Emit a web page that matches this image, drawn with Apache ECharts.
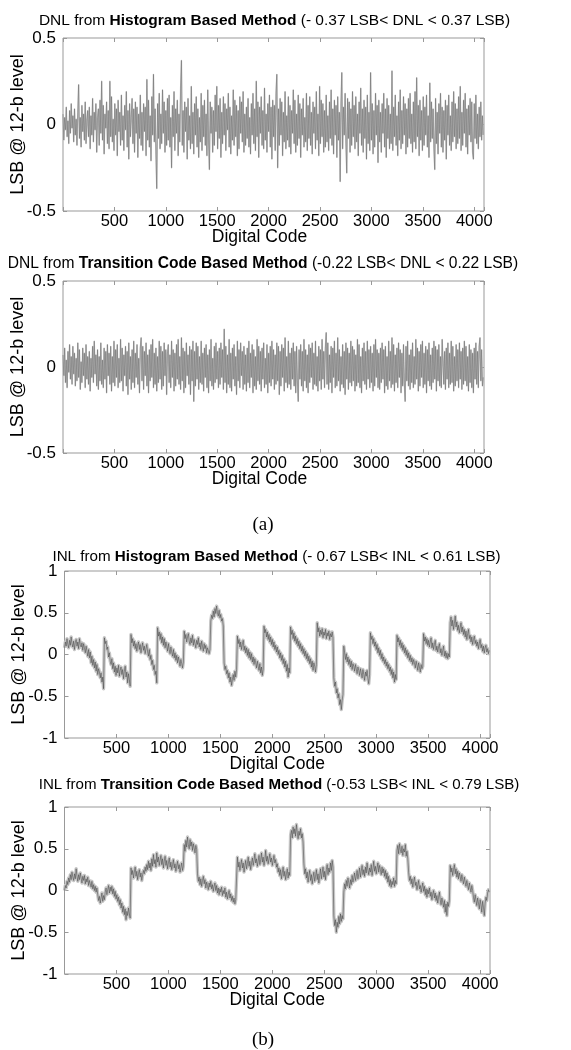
<!DOCTYPE html>
<html>
<head>
<meta charset="utf-8">
<script src="https://cdn.jsdelivr.net/npm/echarts@6/dist/echarts.min.js"></script>
<style>
html,body{margin:0;padding:0;background:#fff;}
#c{width:571px;height:1050px;}
</style>
</head>
<body>
<div id="c"></div>
<script>
// One stored sample every 8 digital codes (0..4088)
const codeStep = 8;
const xTicks = [500, 1000, 1500, 2000, 2500, 3000, 3500, 4000];
const dnlTicks = [-0.5, 0, 0.5];
const inlTicks = [-1, -0.5, 0, 0.5, 1];

const titles = [
  ['DNL from ', 'Histogram Based Method', ' (- 0.37 LSB< DNL < 0.37 LSB)'],
  ['DNL from ', 'Transition Code Based Method', ' (-0.22 LSB< DNL < 0.22 LSB)'],
  ['INL from ', 'Histogram Based Method', ' (- 0.67 LSB< INL < 0.61 LSB)'],
  ['INL from ', 'Transition Code Based Method', ' (-0.53 LSB< INL < 0.79 LSB)']
];

// DNL, histogram based method (LSB)
const dnlHist = [
  0.06,-0.09,0.04,-0.03,0.10,-0.07,0.02,-0.11,0.08,-0.05,0.12,-0.02,0.05,-0.10,0.09,-0.06,
  0.03,-0.12,0.07,0.23,-0.08,0.04,-0.13,0.11,-0.04,0.06,-0.09,0.13,-0.11,0.02,0.08,-0.07,
  0.10,-0.14,0.05,-0.06,0.15,-0.10,0.07,-0.03,0.12,-0.16,0.04,0.09,-0.12,0.14,-0.05,0.25,
  -0.09,0.11,-0.17,0.06,-0.02,0.13,-0.11,0.08,-0.14,0.25,-0.07,0.16,-0.10,0.03,-0.15,0.12,
  -0.06,0.09,-0.18,0.14,-0.04,0.07,-0.12,0.17,-0.09,0.05,-0.15,0.11,-0.03,0.19,-0.13,0.08,
  -0.20,0.12,-0.07,0.04,0.15,-0.11,0.09,-0.16,0.13,-0.05,0.10,-0.19,0.06,-0.08,0.17,-0.12,
  0.07,-0.15,0.12,-0.04,0.10,-0.18,0.26,-0.09,0.14,-0.13,0.05,-0.21,0.16,-0.06,0.29,-0.10,
  0.09,-0.17,-0.37,0.12,-0.08,0.18,-0.14,0.06,-0.11,0.20,-0.05,0.13,-0.16,0.08,-0.12,0.15,
  -0.09,0.17,-0.13,0.04,-0.25,0.11,-0.07,0.19,-0.15,0.09,-0.05,0.14,-0.18,0.06,-0.10,0.21,
  0.37,-0.12,0.08,-0.16,0.13,-0.04,0.10,-0.20,0.15,-0.09,0.05,-0.14,0.22,-0.11,0.07,-0.17,
  0.12,-0.06,0.16,-0.13,0.09,-0.19,0.04,-0.10,0.18,-0.15,0.11,-0.07,0.14,-0.12,0.06,-0.18,
  0.20,-0.09,-0.26,0.13,-0.05,0.10,-0.16,0.08,-0.12,0.17,-0.04,0.22,-0.14,0.11,-0.08,0.15,
  -0.19,0.07,-0.11,0.16,-0.06,0.12,-0.15,0.09,-0.03,0.18,-0.13,0.10,-0.17,0.05,-0.09,0.20,
  -0.12,0.14,-0.07,0.11,-0.18,0.08,-0.14,0.16,-0.05,0.13,-0.10,0.19,-0.16,0.06,-0.12,0.10,
  -0.08,0.15,-0.13,0.04,-0.17,0.12,-0.06,0.18,-0.11,0.09,-0.15,0.25,-0.07,0.13,-0.19,0.10,
  -0.05,0.16,-0.12,0.08,-0.14,0.21,-0.09,0.06,-0.16,0.12,-0.04,0.17,-0.13,0.10,-0.20,0.14,
  -0.07,0.11,-0.15,0.18,0.29,-0.25,0.09,-0.12,0.15,-0.06,0.13,-0.18,0.07,-0.10,0.19,-0.14,
  0.05,-0.09,0.16,-0.13,0.11,-0.17,0.08,-0.05,0.20,-0.11,0.14,-0.16,0.06,-0.12,0.17,-0.08,
  0.12,-0.19,0.09,-0.06,0.15,-0.13,0.04,-0.10,0.18,-0.15,0.11,-0.08,0.16,-0.12,0.07,-0.17,
  0.13,-0.05,0.10,-0.14,0.19,-0.09,0.06,-0.18,0.22,-0.11,0.14,-0.07,0.12,-0.16,0.08,-0.13,
  0.17,-0.10,0.05,-0.15,0.13,-0.08,0.20,-0.12,0.09,-0.17,0.14,-0.06,0.11,-0.19,0.16,-0.09,
  0.07,-0.33,0.12,0.30,-0.14,0.10,-0.06,0.18,-0.11,-0.28,0.15,-0.08,0.13,-0.16,0.09,-0.12,
  0.19,-0.07,0.11,-0.14,0.16,-0.10,0.06,-0.18,0.13,-0.05,0.21,-0.12,0.09,-0.16,0.14,-0.08,
  0.10,-0.20,0.17,-0.11,0.07,-0.15,0.30,-0.09,0.12,-0.17,0.08,-0.13,0.18,-0.06,0.11,-0.22,
  0.14,-0.10,0.07,-0.16,0.12,-0.05,0.18,-0.13,0.09,-0.19,0.15,-0.08,0.11,-0.14,0.06,-0.11,
  0.31,-0.15,0.10,-0.07,0.17,-0.12,0.05,-0.18,0.13,-0.09,0.20,-0.14,0.08,-0.11,0.16,-0.06,
  0.12,-0.17,0.09,-0.13,0.15,-0.08,0.18,-0.11,0.06,-0.16,0.13,-0.10,0.19,-0.14,0.27,-0.07,
  0.11,-0.18,0.14,-0.09,0.08,-0.15,0.16,-0.12,0.10,-0.06,0.17,-0.13,0.05,-0.19,0.24,-0.10,
  0.13,-0.08,0.09,-0.14,-0.26,0.15,-0.11,0.07,-0.17,0.12,-0.05,0.18,-0.13,0.10,-0.16,0.08,
  -0.09,0.14,-0.20,0.11,-0.06,0.17,-0.12,0.05,-0.15,0.13,-0.10,0.19,-0.07,0.12,-0.14,0.09,
  -0.11,0.16,-0.08,0.22,-0.15,0.07,-0.12,0.14,-0.05,0.18,-0.13,0.09,-0.17,0.11,-0.06,0.15,
  -0.10,0.13,-0.16,-0.20,0.12,-0.08,0.17,-0.11,0.06,-0.14,0.10,-0.07,0.13,-0.09,0.05,-0.06
];

// DNL, transition code based method (LSB)
const dnlTrans = [
  0.07,-0.05,0.11,-0.09,0.04,-0.12,0.09,-0.03,0.13,-0.07,0.06,-0.10,0.12,-0.04,0.08,-0.11,
  0.05,-0.08,0.14,-0.06,0.10,-0.13,0.03,-0.09,0.11,-0.05,0.08,-0.12,0.13,-0.07,0.06,-0.10,
  0.09,-0.14,0.05,-0.06,0.12,-0.09,0.15,-0.04,0.07,-0.11,0.10,-0.13,0.06,-0.08,0.14,-0.10,
  0.04,-0.12,0.11,-0.07,0.09,-0.15,0.13,-0.05,0.08,-0.10,0.12,-0.14,0.06,-0.09,0.15,-0.11,
  0.10,-0.06,0.13,-0.12,0.05,-0.09,0.16,-0.08,0.11,-0.14,0.07,-0.05,0.12,-0.11,0.09,-0.16,
  0.14,-0.07,0.06,-0.13,0.10,-0.09,0.15,-0.12,0.08,-0.06,0.13,-0.10,0.05,-0.15,0.11,0.17,
  -0.08,0.12,-0.13,0.09,-0.05,0.14,-0.11,0.07,-0.15,0.10,-0.08,0.13,-0.06,0.16,-0.12,0.08,
  -0.10,0.11,-0.14,0.06,-0.09,0.15,-0.07,0.12,-0.13,0.09,-0.11,0.14,-0.05,0.10,-0.16,0.08,
  0.13,-0.09,0.07,-0.12,0.15,-0.06,0.10,-0.14,0.08,-0.11,0.13,-0.07,0.16,-0.10,0.06,-0.13,
  0.17,-0.08,0.11,-0.15,0.09,-0.12,0.14,-0.05,0.07,-0.10,0.12,-0.16,0.10,-0.08,0.15,-0.20,
  0.09,-0.11,0.14,-0.07,0.12,-0.13,0.06,-0.09,0.15,-0.10,0.08,-0.14,0.11,-0.06,0.13,-0.12,
  0.07,-0.15,0.10,-0.08,0.16,-0.11,0.05,-0.13,0.12,-0.09,0.14,-0.07,0.09,-0.12,0.11,-0.10,
  0.14,-0.06,0.10,-0.13,0.22,-0.09,0.12,-0.15,0.07,-0.10,0.16,-0.12,0.08,-0.14,0.11,-0.07,
  0.13,-0.11,0.06,-0.16,0.15,-0.08,0.10,-0.12,0.14,-0.05,0.09,-0.13,0.12,-0.10,0.07,-0.14,
  0.11,-0.09,0.15,-0.12,0.08,-0.06,0.13,-0.15,0.10,-0.11,0.06,-0.13,0.16,-0.08,0.12,-0.10,
  0.09,-0.14,0.11,-0.07,0.14,-0.12,0.05,-0.10,0.13,-0.15,0.08,-0.09,0.12,-0.11,0.15,-0.07,
  0.10,-0.13,0.07,-0.10,0.14,-0.08,0.12,-0.16,0.09,-0.11,0.13,-0.06,0.11,-0.14,0.17,-0.09,
  0.06,-0.12,0.15,-0.10,0.08,-0.13,0.11,-0.07,0.14,-0.11,0.09,-0.15,0.12,-0.08,-0.20,0.10,
  -0.07,0.13,-0.11,0.09,-0.14,0.16,-0.08,0.10,-0.12,0.07,-0.15,0.13,-0.09,0.11,-0.06,0.14,
  -0.13,0.08,-0.10,0.15,-0.11,0.06,-0.14,0.12,-0.08,0.10,-0.13,0.16,-0.07,0.09,-0.12,0.11,
  0.20,-0.10,0.14,-0.13,0.07,-0.09,0.12,-0.15,0.11,-0.06,0.15,-0.12,0.08,-0.11,0.17,-0.08,
  0.10,-0.14,0.06,-0.10,0.13,-0.12,0.09,-0.16,0.14,-0.07,0.11,-0.13,0.08,-0.09,0.15,-0.11,
  0.12,-0.08,0.10,-0.14,0.07,-0.11,0.16,-0.09,0.13,-0.12,0.06,-0.15,0.11,-0.08,0.14,-0.10,
  0.09,-0.13,0.15,-0.07,0.10,-0.12,0.12,-0.09,0.08,-0.14,0.13,-0.11,0.16,-0.06,0.10,-0.12,
  0.08,-0.13,0.11,-0.09,0.14,-0.07,0.10,-0.15,0.12,-0.11,0.06,-0.13,0.15,-0.08,0.09,-0.12,
  0.17,-0.10,0.13,-0.14,0.07,-0.09,0.11,-0.12,0.14,-0.06,0.10,-0.15,0.08,-0.11,0.13,-0.09,
  -0.20,0.12,-0.08,0.15,-0.11,0.07,-0.13,0.10,-0.09,0.14,-0.12,0.06,-0.10,0.16,-0.07,0.11,
  -0.14,0.09,-0.11,0.13,-0.06,0.15,-0.12,0.08,-0.10,0.12,-0.15,0.10,-0.08,0.14,-0.11,0.07,
  -0.13,0.11,-0.09,0.15,-0.07,0.12,-0.14,0.10,-0.08,0.13,-0.11,0.06,-0.12,0.16,0.17,-0.10,
  0.09,-0.13,0.11,-0.07,0.14,-0.12,0.08,-0.10,0.15,-0.09,0.12,-0.14,0.06,-0.11,0.13,-0.08,
  0.10,-0.12,0.14,-0.07,0.09,-0.13,0.11,-0.10,0.15,-0.08,0.12,-0.11,0.06,-0.14,0.13,-0.09,
  0.10,-0.12,0.08,-0.15,0.11,-0.07,0.14,-0.10,0.09,-0.12,0.12,0.17,-0.08,0.10,-0.11,-0.06
];

// INL, histogram based method (LSB)
const inlHist = [
  0.08,0.15,0.10,0.19,0.12,0.08,0.17,0.11,0.21,0.13,0.09,0.16,0.06,0.14,0.18,0.10,
  0.15,0.07,0.19,0.12,0.09,0.14,0.05,0.13,0.08,0.02,0.10,0.04,-0.02,0.06,-0.04,0.03,
  -0.10,-0.02,-0.13,-0.06,-0.16,-0.09,-0.20,-0.12,-0.24,-0.17,-0.21,-0.28,-0.22,-0.33,-0.27,-0.41,
  0.20,0.13,0.16,0.06,0.09,-0.03,0.02,-0.08,-0.12,-0.05,-0.17,-0.10,-0.21,-0.14,-0.25,-0.16,
  -0.22,-0.13,-0.26,-0.19,-0.15,-0.24,-0.18,-0.29,-0.20,-0.14,-0.27,-0.21,-0.34,-0.23,-0.30,-0.38,
  0.24,0.14,0.19,0.10,0.16,0.07,0.13,0.04,0.11,0.15,0.06,0.12,0.02,0.09,0.14,0.05,
  0.10,0.01,0.07,0.12,0.03,-0.02,0.06,-0.06,-0.01,-0.12,-0.07,-0.18,-0.13,-0.24,-0.20,-0.34,
  0.32,0.22,0.27,0.18,0.25,0.14,0.21,0.11,0.19,0.08,0.15,0.10,0.04,0.13,0.06,0.01,
  0.09,0.03,-0.02,0.06,-0.04,0.02,-0.07,-0.01,-0.10,-0.03,-0.08,-0.14,-0.06,-0.11,-0.16,-0.09,
  0.28,0.19,0.24,0.15,0.21,0.25,0.16,0.12,0.20,0.14,0.23,0.11,0.18,0.13,0.08,0.17,
  0.12,0.20,0.09,0.14,0.06,0.16,0.10,0.04,0.13,0.07,0.11,0.02,0.08,0.05,0.01,0.06,
  0.40,0.47,0.43,0.52,0.45,0.55,0.49,0.58,0.50,0.46,0.53,0.44,0.48,0.40,0.43,0.34,
  -0.10,-0.18,-0.14,-0.23,-0.19,-0.28,-0.22,-0.33,-0.27,-0.37,-0.30,-0.24,-0.31,-0.20,-0.27,-0.18,
  0.22,0.13,0.18,0.09,0.15,0.06,0.12,0.17,0.05,0.10,0.02,0.08,-0.01,0.06,-0.04,0.03,
  -0.06,0.01,-0.09,-0.03,-0.12,-0.05,-0.10,-0.16,-0.08,-0.14,-0.19,-0.11,-0.22,-0.15,-0.25,-0.18,
  0.34,0.26,0.30,0.21,0.27,0.18,0.24,0.15,0.21,0.12,0.18,0.09,0.15,0.06,0.11,0.03,
  0.09,0.00,0.05,-0.04,0.02,-0.07,-0.01,-0.11,-0.05,-0.15,-0.08,-0.20,-0.12,-0.27,-0.16,-0.22,
  0.33,0.24,0.29,0.19,0.26,0.16,0.22,0.13,0.19,0.10,0.16,0.07,0.13,0.04,0.10,0.01,
  0.07,-0.02,0.04,-0.05,0.01,-0.08,-0.02,-0.11,-0.05,-0.15,-0.08,-0.19,-0.10,-0.14,-0.21,-0.12,
  0.38,0.27,0.32,0.22,0.29,0.24,0.31,0.20,0.27,0.23,0.30,0.19,0.26,0.22,0.28,0.18,0.25,0.21,0.27,0.20,
  -0.28,-0.38,-0.33,-0.46,-0.41,-0.52,-0.47,-0.60,-0.54,-0.66,-0.55,-0.48,
  0.10,0.02,-0.06,0.01,-0.09,-0.03,-0.12,-0.06,-0.15,-0.08,-0.18,-0.11,-0.14,-0.20,-0.12,-0.17,
  -0.23,-0.15,-0.19,-0.25,-0.17,-0.22,-0.28,-0.18,-0.24,-0.31,-0.21,-0.26,-0.19,-0.29,-0.35,-0.24,
  0.26,0.18,0.22,0.13,0.19,0.10,0.15,0.06,0.12,0.02,0.08,-0.01,0.05,-0.05,0.01,-0.08,
  -0.03,-0.11,-0.06,-0.14,-0.09,-0.17,-0.12,-0.20,-0.15,-0.24,-0.18,-0.28,-0.21,-0.33,-0.24,-0.30,
  0.23,0.15,0.20,0.11,0.17,0.08,0.14,0.05,0.11,0.02,0.08,-0.01,0.05,-0.04,0.02,-0.07,
  -0.01,-0.09,-0.04,-0.12,-0.06,-0.10,-0.16,-0.08,-0.13,-0.19,-0.10,-0.15,-0.21,-0.12,-0.17,-0.14,
  0.25,0.16,0.21,0.13,0.19,0.11,0.17,0.09,0.15,0.20,0.08,0.14,0.06,0.12,0.17,0.05,
  0.10,0.03,0.09,0.13,0.02,0.07,-0.01,0.05,0.10,-0.02,0.04,-0.04,0.02,-0.05,0.01,-0.03,
  0.38,0.45,0.34,0.41,0.30,0.37,0.46,0.33,0.39,0.29,0.35,0.26,0.32,0.38,0.27,0.33,
  0.24,0.30,0.21,0.28,0.18,0.25,0.30,0.19,0.23,0.15,0.21,0.12,0.18,0.22,0.13,0.17,
  0.10,0.15,0.07,0.13,0.18,0.08,0.12,0.04,0.10,0.02,0.08,0.11,0.03,0.07,0.01,0.05
];

// INL, transition code based method (LSB)
const inlTrans = [
  0.00,0.06,0.03,0.11,0.07,0.15,0.10,0.19,0.13,0.22,0.16,0.12,0.20,0.14,0.26,0.17,
  0.11,0.19,0.13,0.21,0.15,0.09,0.17,0.12,0.18,0.08,0.14,0.10,0.16,0.06,0.12,0.08,
  0.04,0.11,0.02,0.07,0.00,0.05,-0.02,0.03,
  -0.05,-0.12,-0.07,-0.15,-0.09,-0.03,-0.13,-0.06,-0.11,-0.02,0.03,-0.05,0.01,0.06,-0.03,0.04,
  -0.01,0.05,-0.04,0.02,-0.07,-0.01,-0.10,-0.05,-0.13,-0.08,
  -0.17,-0.11,-0.21,-0.15,-0.26,-0.19,-0.29,-0.22,-0.35,-0.25,-0.30,-0.21,-0.28,-0.33,
  0.27,0.19,0.24,0.15,0.22,0.28,0.17,0.23,0.13,0.20,0.25,0.16,0.21,0.12,0.19,0.24,
  0.20,0.28,0.23,0.31,0.25,0.35,0.27,0.33,0.24,0.38,0.29,0.43,0.32,0.37,0.28,0.45,
  0.34,0.40,0.30,0.36,0.42,0.31,0.38,0.27,0.35,0.41,0.30,0.36,0.26,0.33,0.39,0.28,
  0.34,0.25,0.31,0.37,0.27,0.32,0.23,0.30,0.35,0.26,0.31,0.22,0.28,0.33,0.24,0.29,
  0.55,0.47,0.60,0.52,0.64,0.55,0.50,0.61,0.53,0.58,0.48,0.56,0.51,0.45,0.54,0.49,
  0.20,0.11,0.16,0.07,0.14,0.05,0.12,0.17,0.08,0.13,0.03,0.10,0.06,0.01,0.09,0.04,
  0.11,0.02,0.07,-0.01,0.05,0.09,0.00,0.06,-0.03,0.03,-0.05,0.02,-0.02,0.04,-0.06,0.00,
  -0.04,0.03,-0.08,-0.02,-0.10,-0.05,0.00,-0.09,-0.04,-0.12,-0.07,-0.14,-0.09,-0.16,-0.11,-0.13,
  0.40,0.28,0.34,0.24,0.31,0.37,0.27,0.33,0.22,0.30,0.36,0.26,0.32,0.40,0.29,0.35,
  0.25,0.33,0.39,0.30,0.36,0.44,0.33,0.38,0.29,0.35,0.42,0.31,0.37,0.45,0.34,0.40,
  0.30,0.37,0.48,0.35,0.41,0.32,0.38,0.44,0.34,0.39,0.30,0.36,0.42,0.33,0.37,0.28,
  0.32,0.22,0.27,0.18,0.25,0.14,0.21,0.28,0.17,0.23,0.13,0.20,0.26,0.15,0.22,0.18,
  0.66,0.72,0.63,0.76,0.68,0.74,0.65,0.79,0.70,0.62,0.71,0.66,0.74,0.63,0.68,0.58,
  0.32,0.20,0.26,0.15,0.22,0.10,0.18,0.24,0.12,0.19,0.08,0.16,0.22,0.11,0.17,0.25,
  0.13,0.20,0.09,0.18,0.26,0.14,0.21,0.28,0.16,0.23,0.13,0.25,0.31,0.19,0.27,0.22,
  0.33,0.24,0.36,0.28,
  -0.30,-0.42,-0.35,-0.50,-0.38,-0.44,-0.31,-0.40,-0.28,-0.37,-0.30,-0.34,
  -0.02,0.08,0.02,0.12,0.05,0.15,0.09,0.03,0.13,0.07,0.18,0.10,0.15,0.21,0.12,0.17,
  0.24,0.14,0.20,0.27,0.16,0.23,0.30,0.19,0.25,0.17,0.28,0.21,0.33,0.24,0.19,0.27,
  0.22,0.31,0.18,0.26,0.35,0.23,0.29,0.20,0.27,0.33,0.22,0.30,0.25,0.19,0.28,0.21,
  0.26,0.17,0.24,0.14,0.21,0.10,0.17,0.06,0.13,0.04,0.11,0.07,0.15,0.05,0.12,0.08,
  0.48,0.54,0.44,0.56,0.49,0.45,0.53,0.42,0.50,0.46,0.55,0.41,0.47,0.38,
  0.22,0.12,0.17,0.08,0.14,0.04,0.11,0.16,0.06,0.10,0.01,0.07,0.12,0.02,0.06,-0.02,
  0.04,0.09,-0.01,0.05,-0.05,0.02,-0.08,0.01,-0.04,0.03,-0.07,-0.02,-0.11,-0.04,0.00,-0.09,
  -0.03,-0.12,-0.06,-0.15,-0.08,-0.02,-0.11,-0.17,-0.09,-0.14,-0.20,-0.12,-0.26,-0.16,-0.30,-0.14,
  -0.19,-0.12,
  0.30,0.22,0.27,0.18,0.25,0.31,0.20,0.26,0.16,0.23,0.14,0.21,0.17,0.11,0.19,0.13,
  0.08,0.16,0.10,0.05,0.12,0.06,0.01,0.09,0.03,-0.02,0.06,0.00,
  -0.08,-0.14,-0.05,-0.12,-0.18,-0.09,-0.15,-0.22,-0.11,-0.17,-0.26,-0.13,-0.20,-0.30,-0.15,-0.08,
  -0.12,-0.03,0.01,-0.02
];

const seriesData = [dnlHist, dnlTrans, inlHist, inlTrans];

const FONT = '"Liberation Sans", Arial, Helvetica, sans-serif';
const grids = [
  {left: 63, top: 38, width: 421, height: 173},
  {left: 63, top: 281, width: 421, height: 172},
  {left: 64.5, top: 571, width: 425.5, height: 167},
  {left: 64.5, top: 807, width: 425.5, height: 167}
];
const titlePos = [[269.5, 8], [258, 251], [271.5, 544], [274, 772]];
const titleSize = [15.5, 15.6, 15.2, 15.1];

const chart = echarts.init(document.getElementById('c'), null, {renderer: 'canvas'});

const xAxes = [], yAxes = [], series = [], title = [];
grids.forEach((g, i) => {
  const isDnl = i < 2;
  const yt = isDnl ? dnlTicks : inlTicks;
  const tick = {inside: true, length: 4, lineStyle: {color: '#999'}};
  xAxes.push({
    gridIndex: i, type: 'value', min: 0, max: 4095, interval: 500,
    axisLine: {show: false, onZero: false},
    axisTick: tick,
    axisLabel: {
      color: '#000', fontSize: 16.5, fontFamily: FONT, margin: 2,
      formatter: v => (xTicks.indexOf(v) >= 0 ? String(v) : '')
    },
    splitLine: {show: false},
    name: 'Digital Code', nameLocation: 'middle', nameGap: 17, nameMoveOverlap: false,
    nameTextStyle: {color: '#000', fontSize: 17.5, fontFamily: FONT,
      padding: isDnl ? [0, 28, 0, 0] : [0, 0, 0, 0]}
  });
  xAxes.push({
    gridIndex: i, type: 'value', min: 0, max: 4095, interval: 500, position: 'top',
    axisLine: {show: false, onZero: false},
    axisTick: tick,
    axisLabel: {show: false}, splitLine: {show: false}
  });
  yAxes.push({
    gridIndex: i, type: 'value', min: yt[0], max: yt[yt.length - 1], interval: 0.5,
    axisLine: {show: false, onZero: false},
    axisTick: tick,
    axisLabel: {color: '#000', fontSize: 17, fontFamily: FONT, margin: 7},
    splitLine: {show: false},
    name: 'LSB @ 12-b level', nameLocation: 'middle', nameGap: 36, nameMoveOverlap: false,
    nameTextStyle: {color: '#000', fontSize: 18, fontFamily: FONT}
  });
  yAxes.push({
    gridIndex: i, type: 'value', min: yt[0], max: yt[yt.length - 1], interval: 0.5, position: 'right',
    axisLine: {show: false, onZero: false},
    axisTick: tick,
    axisLabel: {show: false}, splitLine: {show: false}
  });
  const pts = seriesData[i].map((v, k) => [k * codeStep, v]);
  // light band under a thin dark trace, as in the original rendering
  series.push({
    type: 'line', xAxisIndex: 2 * i, yAxisIndex: 2 * i, data: pts,
    showSymbol: false, symbol: 'none', animation: false, silent: true,
    lineStyle: {color: isDnl ? '#c2c2c2' : '#c6c6c6', width: isDnl ? 1.4 : 3.4, join: 'round'}
  });
  series.push({
    type: 'line', xAxisIndex: 2 * i, yAxisIndex: 2 * i, data: pts,
    showSymbol: false, symbol: 'none', animation: false, silent: true,
    lineStyle: {color: isDnl ? '#5a5a5a' : '#3c3c3c', width: isDnl ? 0.4 : 0.5}
  });
  const t = titles[i];
  title.push({
    left: titlePos[i][0], top: titlePos[i][1], textAlign: 'center',
    text: '{n|' + t[0] + '}{b|' + t[1] + '}{n|' + t[2] + '}',
    textStyle: {
      fontWeight: 'normal',
      rich: {
        n: {fontFamily: FONT, fontSize: titleSize[i], color: '#000', fontWeight: 'normal'},
        b: {fontFamily: FONT, fontSize: titleSize[i], color: '#000', fontWeight: 'bold'}
      }
    }
  });
});

chart.setOption({
  animation: false,
  backgroundColor: '#fff',
  title: title,
  grid: grids.map(g => Object.assign({show: true, borderColor: '#999', borderWidth: 1,
    backgroundColor: 'transparent', containLabel: false, outerBoundsMode: 'none'}, g)),
  xAxis: xAxes,
  yAxis: yAxes,
  series: series,
  graphic: [
    {type: 'text', x: 263, y: 525, style: {text: '(a)', font: '19px "Liberation Serif", "Times New Roman", serif', fill: '#000', align: 'center', verticalAlign: 'middle'}},
    {type: 'text', x: 263, y: 1040, style: {text: '(b)', font: '19px "Liberation Serif", "Times New Roman", serif', fill: '#000', align: 'center', verticalAlign: 'middle'}}
  ]
});
</script>
</body>
</html>
